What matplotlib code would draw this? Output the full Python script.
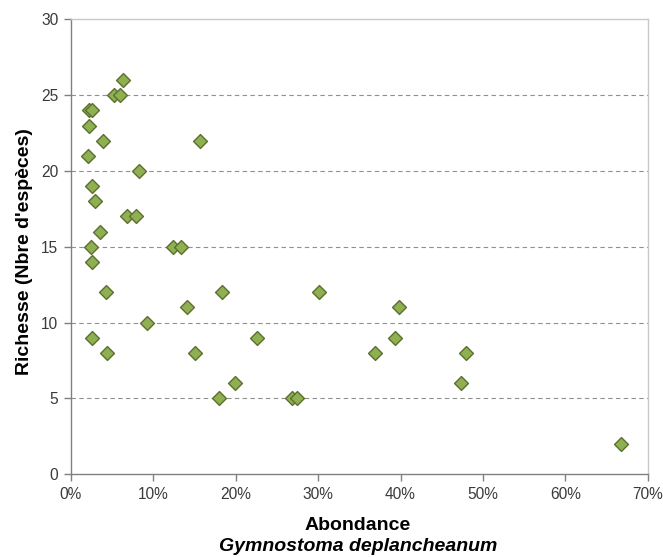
import matplotlib.pyplot as plt
from matplotlib.ticker import FuncFormatter

# abondance (%) and richesse
abondance = [2.2, 2.5, 6.3, 5.2, 6.0, 2.25, 3.95, 15.65, 2.1, 8.2, 2.5, 2.9,
             6.75, 7.9, 3.55, 2.45, 12.4, 13.3, 2.6, 4.2, 18.3, 30.1, 14.1,
             39.8, 9.2, 2.5, 22.6, 39.3, 4.4, 15.0, 36.9, 48.0, 19.9, 47.3,
             18.0, 26.8, 27.4, 66.8]
richesse = [24, 24, 26, 25, 25, 23, 22, 22, 21, 20, 19, 18,
            17, 17, 16, 15, 15, 15, 14, 12, 12, 12, 11,
            11, 10, 9, 9, 9, 8, 8, 8, 8, 6, 6,
            5, 5, 5, 2]
y_ticks = [0, 5, 10, 15, 20, 25, 30]
x_ticks = [0, 10, 20, 30, 40, 50, 60, 70]

plt.rcParams['font.family'] = ['Liberation Sans', 'DejaVu Sans']

fig = plt.figure(figsize=(6.63, 5.57), dpi=100)
ax = fig.add_axes([0.107, 0.149, 0.870, 0.816])

ax.scatter(abondance, richesse, marker='D', s=50, facecolor='#8fb050',
           edgecolor='#5b7030', linewidth=1.0, zorder=3)

ax.set_xlim(0, 70)
ax.set_ylim(0, 30)
ax.set_xticks(x_ticks)
ax.set_yticks(y_ticks)
ax.xaxis.set_major_formatter(FuncFormatter(lambda v, p: f'{v:.0f}%'))

for y in y_ticks[1:-1]:
    ax.axhline(y, color='#909090', linestyle=(0, (4, 3)), linewidth=0.8,
               zorder=1)

# plot area border: light on top/right, darker axes
for side in ['top', 'right']:
    ax.spines[side].set_color('#c8c8c8')
    ax.spines[side].set_linewidth(1.0)
for side in ['left', 'bottom']:
    ax.spines[side].set_color('#808080')
    ax.spines[side].set_linewidth(1.0)

ax.tick_params(axis='both', colors='#808080', labelcolor='#3a3a3a',
               labelsize=11.2, length=5, width=1.0, pad=4)

ax.set_ylabel("Richesse (Nbre d'espèces)", fontsize=14, fontweight='bold')
ax.yaxis.set_label_coords(-0.066, 0.49)
fig.text(0.54, 0.0485, 'Abondance', ha='center', va='baseline', fontsize=14,
         fontweight='bold')
fig.text(0.54, 0.01, 'Gymnostoma deplancheanum', ha='center',
         va='baseline', fontsize=14, fontweight='bold', fontstyle='italic')

fig.savefig('out.png', dpi=100)
